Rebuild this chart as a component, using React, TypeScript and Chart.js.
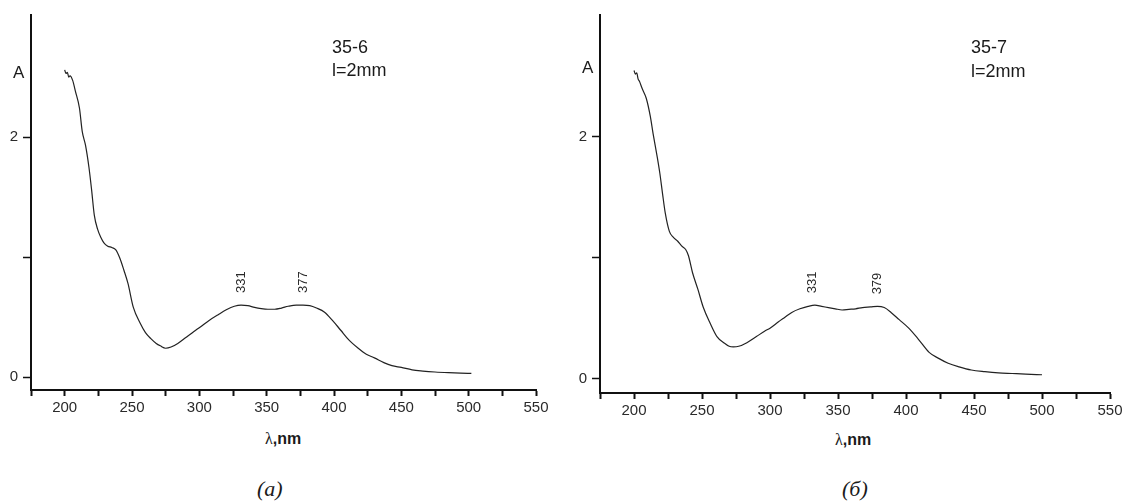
import React, { useEffect, useRef } from 'react';
import { Chart, registerables } from 'chart.js';
Chart.register(...registerables);

// ---- data ----
const wavelengthsA = [200, 201, 202, 203, 204, 206, 208, 211, 213, 215.5, 218, 220, 222, 224.5, 227, 229, 232, 235, 238, 241, 244, 247, 251, 256, 260, 264, 268, 271, 275, 279, 284, 290, 296, 301, 307, 314, 320, 326, 331, 336, 341, 346, 351, 356, 361, 366, 372, 377, 382, 387, 393, 399, 405, 411, 418, 424, 430, 437, 443, 450, 458, 466, 475, 485, 494, 502];
const absorbanceA = [2.56, 2.53, 2.54, 2.50, 2.51, 2.47, 2.38, 2.24, 2.05, 1.93, 1.75, 1.56, 1.35, 1.23, 1.16, 1.12, 1.09, 1.08, 1.06, 0.99, 0.89, 0.78, 0.58, 0.45, 0.37, 0.32, 0.28, 0.26, 0.24, 0.25, 0.28, 0.33, 0.38, 0.42, 0.47, 0.52, 0.56, 0.59, 0.60, 0.595, 0.58, 0.57, 0.565, 0.565, 0.575, 0.59, 0.60, 0.60, 0.595, 0.575, 0.54, 0.47, 0.39, 0.31, 0.24, 0.19, 0.16, 0.12, 0.095, 0.08, 0.06, 0.05, 0.042, 0.036, 0.032, 0.03];

const wavelengthsB = [200, 201, 202, 203, 204, 206, 209, 212, 214, 217, 219, 221, 223, 226, 229, 232, 235, 238, 240, 243, 247, 251, 256, 261, 266, 270, 273, 277, 283, 290, 296, 300, 306, 311, 316, 322, 328, 333, 338, 343, 348, 353, 358, 363, 368, 374, 379, 384, 389, 395, 402, 409, 417, 424, 431, 439, 448, 458, 468, 478, 488, 500];
const absorbanceB = [2.55, 2.52, 2.53, 2.48, 2.46, 2.40, 2.32, 2.17, 2.03, 1.84, 1.70, 1.53, 1.37, 1.22, 1.17, 1.14, 1.10, 1.07, 1.02, 0.88, 0.74, 0.59, 0.46, 0.35, 0.30, 0.27, 0.265, 0.27, 0.30, 0.35, 0.395, 0.42, 0.47, 0.51, 0.55, 0.58, 0.60, 0.61, 0.60, 0.59, 0.58, 0.57, 0.575, 0.58, 0.59, 0.595, 0.60, 0.59, 0.55, 0.49, 0.42, 0.33, 0.22, 0.17, 0.13, 0.10, 0.074, 0.06, 0.05, 0.045, 0.04, 0.035];

const peaksA = [331, 377];
const peakAbsA = [0.60, 0.60];
const peaksB = [331, 379];
const peakAbsB = [0.61, 0.60];

const xTickValues = [175, 200, 225, 250, 275, 300, 325, 350, 375, 400, 425, 450, 475, 500, 525, 550];
const xTickLabels = ['', '200', '', '250', '', '300', '', '350', '', '400', '', '450', '', '500', '', '550'];
const yTickValues = [0, 1, 2];
const yTickLabels = ['0', '', '2'];

const SANS = '"Liberation Sans", Arial, sans-serif';
const SERIF = '"Liberation Serif", "Times New Roman", serif';

const peakLabelPlugin = {
  id: 'peakLabels',
  afterDatasetsDraw(chart: any, _args: any, opts: any) {
    const { ctx, scales } = chart;
    const xs = scales.x;
    const ys = scales.y;
    ctx.save();
    ctx.font = `13px ${SANS}`;
    ctx.fillStyle = '#2a2a2a';
    ctx.textAlign = 'left';
    ctx.textBaseline = 'middle';
    (opts.positions as number[]).forEach((p, i) => {
      const px = xs.getPixelForValue(p);
      const py = ys.getPixelForValue(opts.values[i]);
      ctx.save();
      ctx.translate(px, py - opts.gap);
      ctx.rotate(-Math.PI / 2);
      ctx.fillText(String(p), 0, 0);
      ctx.restore();
    });
    ctx.restore();
  },
};

type SpecProps = {
  left: number;
  width: number;
  height: number;
  chartLeft: number;
  padRight: number;
  padTop: number;
  chartBottom: number;
  yMin: number;
  yMax: number;
  wl: number[];
  ab: number[];
  peaks: number[];
  peakAbs: number[];
};

function Spectrum(p: SpecProps) {
  const ref = useRef<HTMLCanvasElement>(null);
  useEffect(() => {
    const chart = new Chart(ref.current as HTMLCanvasElement, {
      type: 'line',
      data: {
        datasets: [
          {
            data: p.wl.map((w, i) => ({ x: w, y: p.ab[i] })),
            borderColor: '#222',
            borderWidth: 1.2,
            pointRadius: 0,
            cubicInterpolationMode: 'monotone',
            fill: false,
          },
        ],
      },
      options: {
        responsive: false,
        animation: false,
        devicePixelRatio: 1,
        layout: { padding: { top: p.padTop, right: p.padRight, left: 0, bottom: 0 } },
        plugins: {
          legend: { display: false },
          tooltip: { enabled: false },
          // @ts-ignore
          peakLabels: { positions: p.peaks, values: p.peakAbs, gap: 12 },
        },
        scales: {
          x: {
            type: 'linear',
            min: 175,
            max: 550,
            afterBuildTicks: (s: any) => {
              s.ticks = xTickValues.map((v) => ({ value: v }));
            },
            afterFit: (s: any) => {
              s.height = p.height - p.chartBottom;
            },
            grid: { display: true, drawOnChartArea: false, drawTicks: true, tickLength: 6, tickColor: '#111', tickWidth: 2 },
            border: { display: true, color: '#111', width: 2 },
            ticks: {
              autoSkip: false,
              maxRotation: 0,
              padding: 3,
              color: '#2a2a2a',
              font: { family: SANS, size: 15 },
              callback: (_v: any, i: number) => xTickLabels[i],
            },
          },
          y: {
            type: 'linear',
            min: p.yMin,
            max: p.yMax,
            afterBuildTicks: (s: any) => {
              s.ticks = yTickValues.map((v) => ({ value: v }));
            },
            afterFit: (s: any) => {
              s.width = p.chartLeft;
            },
            grid: { display: true, drawOnChartArea: false, drawTicks: true, tickLength: 8, tickColor: '#111', tickWidth: 1.5 },
            border: { display: true, color: '#111', width: 2 },
            ticks: {
              autoSkip: false,
              padding: 5,
              color: '#2a2a2a',
              font: { family: SANS, size: 15 },
              callback: (_v: any, i: number) => yTickLabels[i],
            },
          },
        },
      },
      plugins: [peakLabelPlugin],
    });
    return () => chart.destroy();
  }, []);
  return (
    <canvas
      ref={ref}
      width={p.width}
      height={p.height}
      style={{ position: 'absolute', left: p.left, top: 0, width: p.width, height: p.height }}
    />
  );
}

function Txt(props: { x: number; base: number; size: number; family?: string; weight?: string | number; italic?: boolean; children: React.ReactNode }) {
  const fam = props.family || SANS;
  return (
    <div
      style={{
        position: 'absolute',
        left: props.x,
        top: props.base - 0.85 * props.size,
        fontSize: props.size,
        lineHeight: `${props.size}px`,
        fontFamily: fam,
        fontWeight: props.weight || 'normal',
        fontStyle: props.italic ? 'italic' : 'normal',
        color: '#1a1a1a',
        whiteSpace: 'nowrap',
      }}
    >
      {props.children}
    </div>
  );
}

function AxisTitle({ x, base }: { x: number; base: number }) {
  return (
    <Txt x={x} base={base} size={16} weight="bold">
      <span style={{ fontFamily: SERIF, fontWeight: 'normal' }}>λ</span>,nm
    </Txt>
  );
}

export default function App() {
  return (
    <div style={{ position: 'absolute', left: 0, top: 0, width: 1126, height: 502, background: '#fff', overflow: 'hidden' }}>
      <Spectrum
        left={0}
        width={560}
        height={430}
        chartLeft={31}
        padRight={24}
        padTop={15}
        chartBottom={390}
        yMin={-0.108}
        yMax={3.017}
        wl={wavelengthsA}
        ab={absorbanceA}
        peaks={peaksA}
        peakAbs={peakAbsA}
      />
      <Spectrum
        left={560}
        width={566}
        height={430}
        chartLeft={40}
        padRight={16}
        padTop={15}
        chartBottom={393}
        yMin={-0.116}
        yMax={3.008}
        wl={wavelengthsB}
        ab={absorbanceB}
        peaks={peaksB}
        peakAbs={peakAbsB}
      />
      <Txt x={13} base={78} size={17}>A</Txt>
      <Txt x={582} base={73} size={17}>A</Txt>
      <Txt x={332} base={53} size={18}>35-6</Txt>
      <Txt x={332} base={76} size={18}>l=2mm</Txt>
      <Txt x={971} base={53} size={18}>35-7</Txt>
      <Txt x={971} base={77} size={18}>l=2mm</Txt>
      <AxisTitle x={265} base={445} />
      <AxisTitle x={835} base={446} />
      <Txt x={257} base={497} size={22} family={SERIF} italic>(a)</Txt>
      <Txt x={842} base={497} size={22} family={SERIF} italic>(б)</Txt>
    </div>
  );
}
